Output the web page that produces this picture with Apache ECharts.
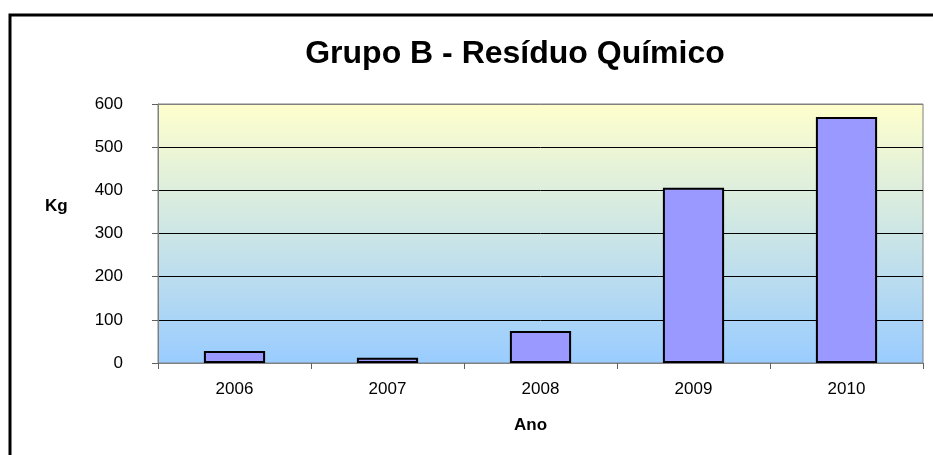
<!DOCTYPE html>
<html>
<head>
<meta charset="utf-8">
<script src="https://cdn.jsdelivr.net/npm/echarts@6/dist/echarts.min.js"></script>
<style>
  html, body { margin: 0; padding: 0; background: #fff; }
  #chartmain { width: 933px; height: 455px; }
</style>
</head>
<body>
<div id="chartmain"></div>
<script>
// dados do grafico
var anos = ['2006', '2007', '2008', '2009', '2010'];
var residuoKg = [28, 12, 74, 406, 570];

var myChart = echarts.init(document.getElementById('chartmain'));
var options = {
    backgroundColor: '#fff',
    textStyle: { fontFamily: 'Arial, "Liberation Sans", sans-serif' },
    title: {
        text: 'Grupo B - Resíduo Químico',
        left: 510,
        textAlign: 'center',
        top: 33,
        textStyle: { fontSize: 32, fontWeight: 'bold', color: '#000' }
    },
    graphic: [{
        // moldura do grafico (so topo e esquerda aparecem)
        type: 'rect',
        shape: { x: 10, y: 15, width: 1000, height: 1000 },
        style: { fill: null, stroke: '#000', lineWidth: 3 },
        silent: true
    }, {
        // titulo do eixo Y
        type: 'text',
        left: 45,
        top: 198,
        style: { text: 'Kg', fontSize: 17, fontWeight: 'bold', fill: '#000', fontFamily: 'Arial, "Liberation Sans", sans-serif' }
    }],
    grid: {
        left: 158, right: 10, top: 104, bottom: 92,
        show: true,
        borderColor: '#808080',
        borderWidth: 1,
        backgroundColor: new echarts.graphic.LinearGradient(0, 0, 0, 1, [
            { offset: 0, color: '#FFFFCC' },
            { offset: 1, color: '#99CCFF' }
        ])
    },
    xAxis: {
        type: 'category',
        data: anos,
        name: 'Ano',
        nameLocation: 'middle',
        nameGap: 54,
        nameTextStyle: { fontSize: 17, fontWeight: 'bold', color: '#000', padding: [0, 20, 0, 0] },
        axisLine: { lineStyle: { color: '#808080', width: 1 } },
        axisTick: { show: true, length: 6, lineStyle: { color: '#606060' } },
        axisLabel: { fontSize: 17, color: '#000', margin: 18 }
    },
    yAxis: {
        type: 'value',
        min: 0, max: 600, interval: 100,
        axisLine: { show: true, lineStyle: { color: '#808080', width: 1 } },
        axisTick: { show: true, length: 6, lineStyle: { color: '#606060' } },
        axisLabel: { fontSize: 17, color: '#000', margin: 35 },
        splitLine: {
            show: true,
            lineStyle: { color: ['#808080', '#000', '#000', '#000', '#000', '#000', '#808080'], width: 1 }
        }
    },
    series: [{
        name: 'Resíduo Químico',
        type: 'bar',
        data: residuoKg,
        barWidth: '40%',
        itemStyle: { color: '#9999FF', borderColor: '#000', borderWidth: 2 }
    }]
};
myChart.setOption(options);
</script>
</body>
</html>
